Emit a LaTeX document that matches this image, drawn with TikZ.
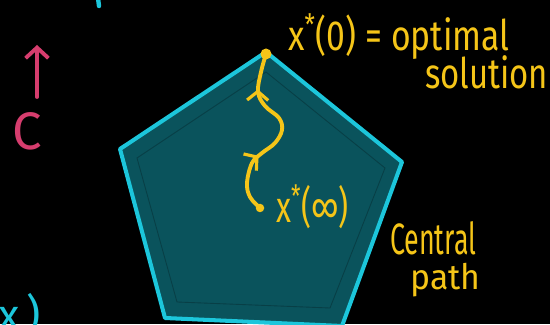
\documentclass[tikz,border=0pt]{standalone}
\usepackage{fontspec}
\setmainfont{Fira Sans}
\usetikzlibrary{arrows.meta,decorations.markings}
\definecolor{rim}{HTML}{1CC6DB}
\definecolor{inside}{HTML}{0A535C}
\definecolor{innerline}{HTML}{083F46}
\definecolor{pen}{HTML}{F5C518}
\definecolor{cost}{HTML}{D63D6E}
\tikzset{
  hand/.style={text=pen, font=\fontsize{25}{27}\selectfont, inner sep=0pt, anchor=base west},
  pathdot/.style={circle, fill=pen, inner sep=0pt},
  centralpath/.style={draw=pen, line width=2.2pt, line cap=round, postaction={decorate},
    decoration={markings,
      mark=at position 0.33 with {\arrow{Straight Barb[length=5pt,width=12pt,line width=1.8pt]}},
      mark=at position 0.80 with {\arrow{Straight Barb[length=5pt,width=12pt,line width=1.8pt]}}}}
}
\begin{document}
\begin{tikzpicture}[x=0.02cm,y=0.02cm]
\fill[black] (0,0) rectangle (550,324);
\useasboundingbox (0,0) rectangle (550,324);
\clip (0,0) rectangle (550,324);
% feasible region
\filldraw[fill=inside, draw=rim, line width=2.3pt, line join=round]
  (266,272) -- (402,162) -- (342,-2) -- (165,6) -- (120,175) -- cycle;
\draw[innerline, line width=0.5pt] (266,252) -- (385,156) -- (330,16) -- (177,22) -- (137,166) -- cycle;
% cost direction
\draw[cost, line width=2.2pt, line cap=round, -{Straight Barb[length=6pt,width=13pt,line width=2.2pt]}] (37,227) -- (37,279);
\node[text=cost, font=\fontsize{30}{32}\selectfont, inner sep=0pt] (cvec) at (27,193) {C};
% central path
\node[pathdot, minimum size=0.22cm] (xopt) at (266,270) {};
\node[pathdot, minimum size=0.17cm] (xinf) at (260,116) {};
\draw[centralpath] plot[smooth, tension=0.6] coordinates {(xinf.center) (250,127) (247,141) (252,161) (262,171) (275,181) (282,194) (279,206) (265,218) (258,232) (261,252) (xopt.center)};
% labels
\node[hand, xscale=0.8, font=\fontsize{24}{26}\selectfont] (optlabel) at (288,273) {x\textsuperscript{*}(0) = optimal};
\node[hand, xscale=0.78, font=\fontsize{24}{26}\selectfont] (sollabel) at (425,235) {solution};
\node[hand, xscale=0.7] (inflabel) at (276,101) {x\textsuperscript{*}(∞)};
\node[hand, xscale=0.61] (cplabel) at (390,69) {Central};
\node[hand, xscale=0.96, font=\fontsize{20}{22}\selectfont] (pathlabel) at (410,34) {path};
% bits of the neighbouring sketch
\node[hand, text=rim] (xcut) at (-2,-6) {x\,)};
\draw[rim, line width=2.5pt, line cap=round] (98,326) -- (99,318);
\end{tikzpicture}
\end{document}
